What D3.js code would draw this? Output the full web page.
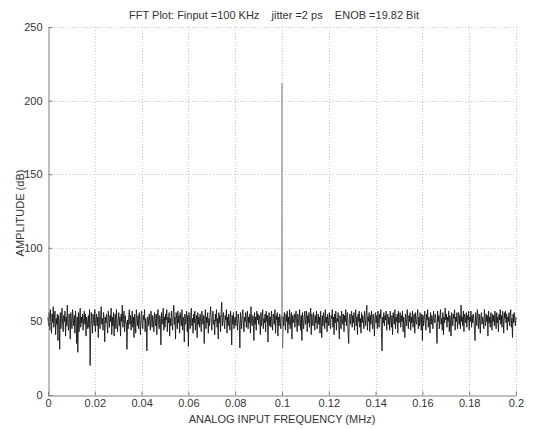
<!DOCTYPE html>
<html><head><meta charset="utf-8">
<script src="https://cdn.jsdelivr.net/npm/d3@7"></script>
<style>body{margin:0;background:#fff}svg{display:block}text{font-family:"Liberation Sans",Arial,sans-serif}</style>
</head><body><svg id="c" width="537" height="429"></svg>
<script>
const titleText = "FFT Plot: Finput =100 KHz    jitter =2 ps    ENOB =19.82 Bit";
const xLabel = "ANALOG INPUT FREQUENCY (MHz)";
const yLabel = "AMPLITUDE (dB)";
const xTicks = [0,0.02,0.04,0.06,0.08,0.1,0.12,0.14,0.16,0.18,0.2];
const yTicks = [0,50,100,150,200,250];
const fMax = 0.2;
const amplitudeDb = [
53,47,56,44,58,51,42,55,49,60,46,53,57,41,52,48,55,37,54,50,
31,56,45,52,59,48,43,54,50,57,40,53,47,61,49,44,55,52,38,56,
50,45,58,52,47,54,42,57,51,35,53,29,56,43,51,59,46,53,49,55,
44,52,57,48,55,40,53,50,45,54,46,58,20,45,56,49,42,55,51,47,
58,43,51,55,47,53,39,57,50,45,54,60,48,52,44,56,51,36,53,49,
55,48,42,57,52,46,54,50,59,41,53,47,56,40,51,55,45,58,49,43,
52,56,47,53,40,55,50,61,46,52,57,43,54,49,49,31,51,45,53,58,
48,54,44,51,57,46,53,39,55,50,42,58,52,47,54,45,56,50,41,53,
57,49,45,54,51,58,43,52,48,30,53,53,47,55,50,44,57,52,46,54,
50,43,56,52,47,55,41,53,58,49,45,54,51,34,56,48,52,59,44,53,
46,55,51,58,43,53,49,56,40,52,47,57,50,44,55,61,48,53,38,56,
52,45,57,49,54,42,56,51,47,58,44,53,50,36,55,48,52,57,43,54,
33,56,50,45,53,59,47,52,42,55,49,57,44,51,54,39,56,48,53,46,
55,50,43,57,52,48,54,35,51,58,45,53,49,56,42,52,47,55,60,50,
44,53,57,48,51,41,55,50,58,46,52,38,56,49,54,43,57,63,47,52,
56,49,45,54,51,58,42,53,47,55,50,44,57,52,34,54,48,56,45,51,
53,47,57,50,44,55,52,48,32,56,51,45,54,58,49,43,53,50,56,46,
51,57,45,53,49,55,42,60,50,47,54,52,37,56,48,53,44,57,51,55,
48,54,51,41,56,47,53,58,45,52,49,55,43,57,50,54,36,51,56,47,
53,46,57,50,44,55,52,48,58,42,54,51,56,40,53,47,55,50,45,54,
212,
32,53,47,56,51,44,55,50,57,42,53,48,58,45,52,56,38,54,49,51,
55,46,53,57,49,43,55,51,47,58,52,44,54,37,56,50,45,53,57,48,
52,57,43,54,49,56,46,53,59,41,55,50,47,56,52,44,54,49,57,45,
51,55,48,53,42,57,50,39,54,47,56,52,45,58,49,53,43,55,51,47,
56,50,45,54,52,58,46,53,41,55,49,57,44,52,50,56,47,38,54,51,
45,57,52,48,55,43,54,50,58,47,53,56,42,35,51,55,48,53,57,46,
54,49,56,44,52,58,47,53,41,55,50,57,46,52,42,56,49,54,51,45,
57,52,47,55,61,44,53,50,56,43,54,48,57,51,45,55,50,40,53,56,
49,54,45,57,51,46,55,52,58,43,30,53,49,56,47,54,51,57,44,52,
55,48,53,44,57,51,46,54,41,56,52,48,58,45,53,50,55,42,57,49,
52,56,46,54,50,57,43,53,49,39,55,51,47,58,52,45,54,50,56,44,
53,49,57,46,52,55,42,56,50,48,54,58,45,53,47,56,51,44,55,37,
54,47,52,57,49,44,55,51,58,46,53,50,42,56,48,54,52,45,57,51,
49,55,52,46,35,57,50,54,45,53,58,48,52,44,56,41,53,49,59,51,
55,46,53,50,57,43,54,49,40,56,51,47,55,52,58,44,53,50,56,45,
51,56,48,54,45,61,50,53,47,57,43,55,52,49,56,46,54,51,57,44,
53,50,57,46,54,49,55,52,44,37,56,51,47,58,53,45,55,50,42,54,
56,48,53,51,45,58,52,47,55,50,54,40,57,49,53,46,56,51,44,55,
50,54,47,57,52,45,56,49,53,43,55,51,58,48,54,46,57,52,42,56,
52,57,49,55,44,53,50,56,47,54,58,46,52,39,55,49,56,51,47,53
];

const svg = d3.select("#c");
const m = {l:48, r:516, t:27, b:395};
const x = d3.scaleLinear().domain([0,fMax]).range([m.l,m.r]);
const y = d3.scaleLinear().domain([0,250]).range([m.b,m.t]);
const n = amplitudeDb.length;
const freq = i => i*fMax/(n-1);
const pts = amplitudeDb.map((v,i)=>({f:freq(i), v:v, i:i}));
const peakIdx = d3.maxIndex(amplitudeDb);

// grid
const g = svg.append("g");
g.selectAll(".gx").data(xTicks.slice(1)).join("line")
  .attr("x1",d=>Math.round(x(d))+0.5).attr("x2",d=>Math.round(x(d))+0.5).attr("y1",m.t).attr("y2",m.b)
  .attr("stroke","#c8c8c8").attr("stroke-dasharray","1,2").attr("stroke-width",1);
g.selectAll(".gy").data(yTicks.slice(1)).join("line")
  .attr("y1",d=>Math.round(y(d))+0.5).attr("y2",d=>Math.round(y(d))+0.5).attr("x1",m.l).attr("x2",m.r)
  .attr("stroke","#c8c8c8").attr("stroke-dasharray","1,2").attr("stroke-width",1);

// data line (noise floor)
const line = d3.line().x(d=>x(d.f)).y(d=>y(d.v));
svg.append("path").datum(pts.slice(0,peakIdx)).attr("d",line)
  .attr("fill","none").attr("stroke","#111").attr("stroke-width",0.85).attr("stroke-linejoin","bevel");
svg.append("path").datum(pts.slice(peakIdx+1)).attr("d",line)
  .attr("fill","none").attr("stroke","#111").attr("stroke-width",0.85).attr("stroke-linejoin","bevel");
// signal tone
svg.append("path").datum(pts.slice(peakIdx-1,peakIdx+2)).attr("d",line)
  .attr("fill","none").attr("stroke","#8a8a8a").attr("stroke-width",0.7).attr("stroke-linejoin","miter");

// axes
const xa = svg.append("g").attr("transform",`translate(0,${m.b+0.5})`)
  .call(d3.axisBottom(x).tickValues(xTicks).tickFormat(d=>d3.format("~g")(d)).tickSizeInner(-4).tickSizeOuter(0).tickPadding(4));
const ya = svg.append("g").attr("transform",`translate(${m.l+0.5},0)`)
  .call(d3.axisLeft(y).tickValues(yTicks).tickSizeInner(-4).tickSizeOuter(0).tickPadding(6));
[xa,ya].forEach(a=>{
  a.select(".domain").attr("stroke","#808080");
  a.selectAll(".tick line").attr("stroke","#808080");
  a.selectAll("text").attr("fill","#333").style("font-size","11px").style("font-family","'Liberation Sans',Arial,sans-serif");
});

svg.append("text").attr("x",274).attr("y",19).attr("text-anchor","middle")
  .style("font-size","11px").style("white-space","pre").attr("fill","#333").text(titleText);
svg.append("text").attr("x",282).attr("y",423).attr("text-anchor","middle")
  .style("font-size","11px").attr("fill","#333").text(xLabel);
svg.append("text").attr("transform","translate(24,213) rotate(-90)").attr("text-anchor","middle")
  .style("font-size","11px").attr("fill","#333").text(yLabel);
</script></body></html>
